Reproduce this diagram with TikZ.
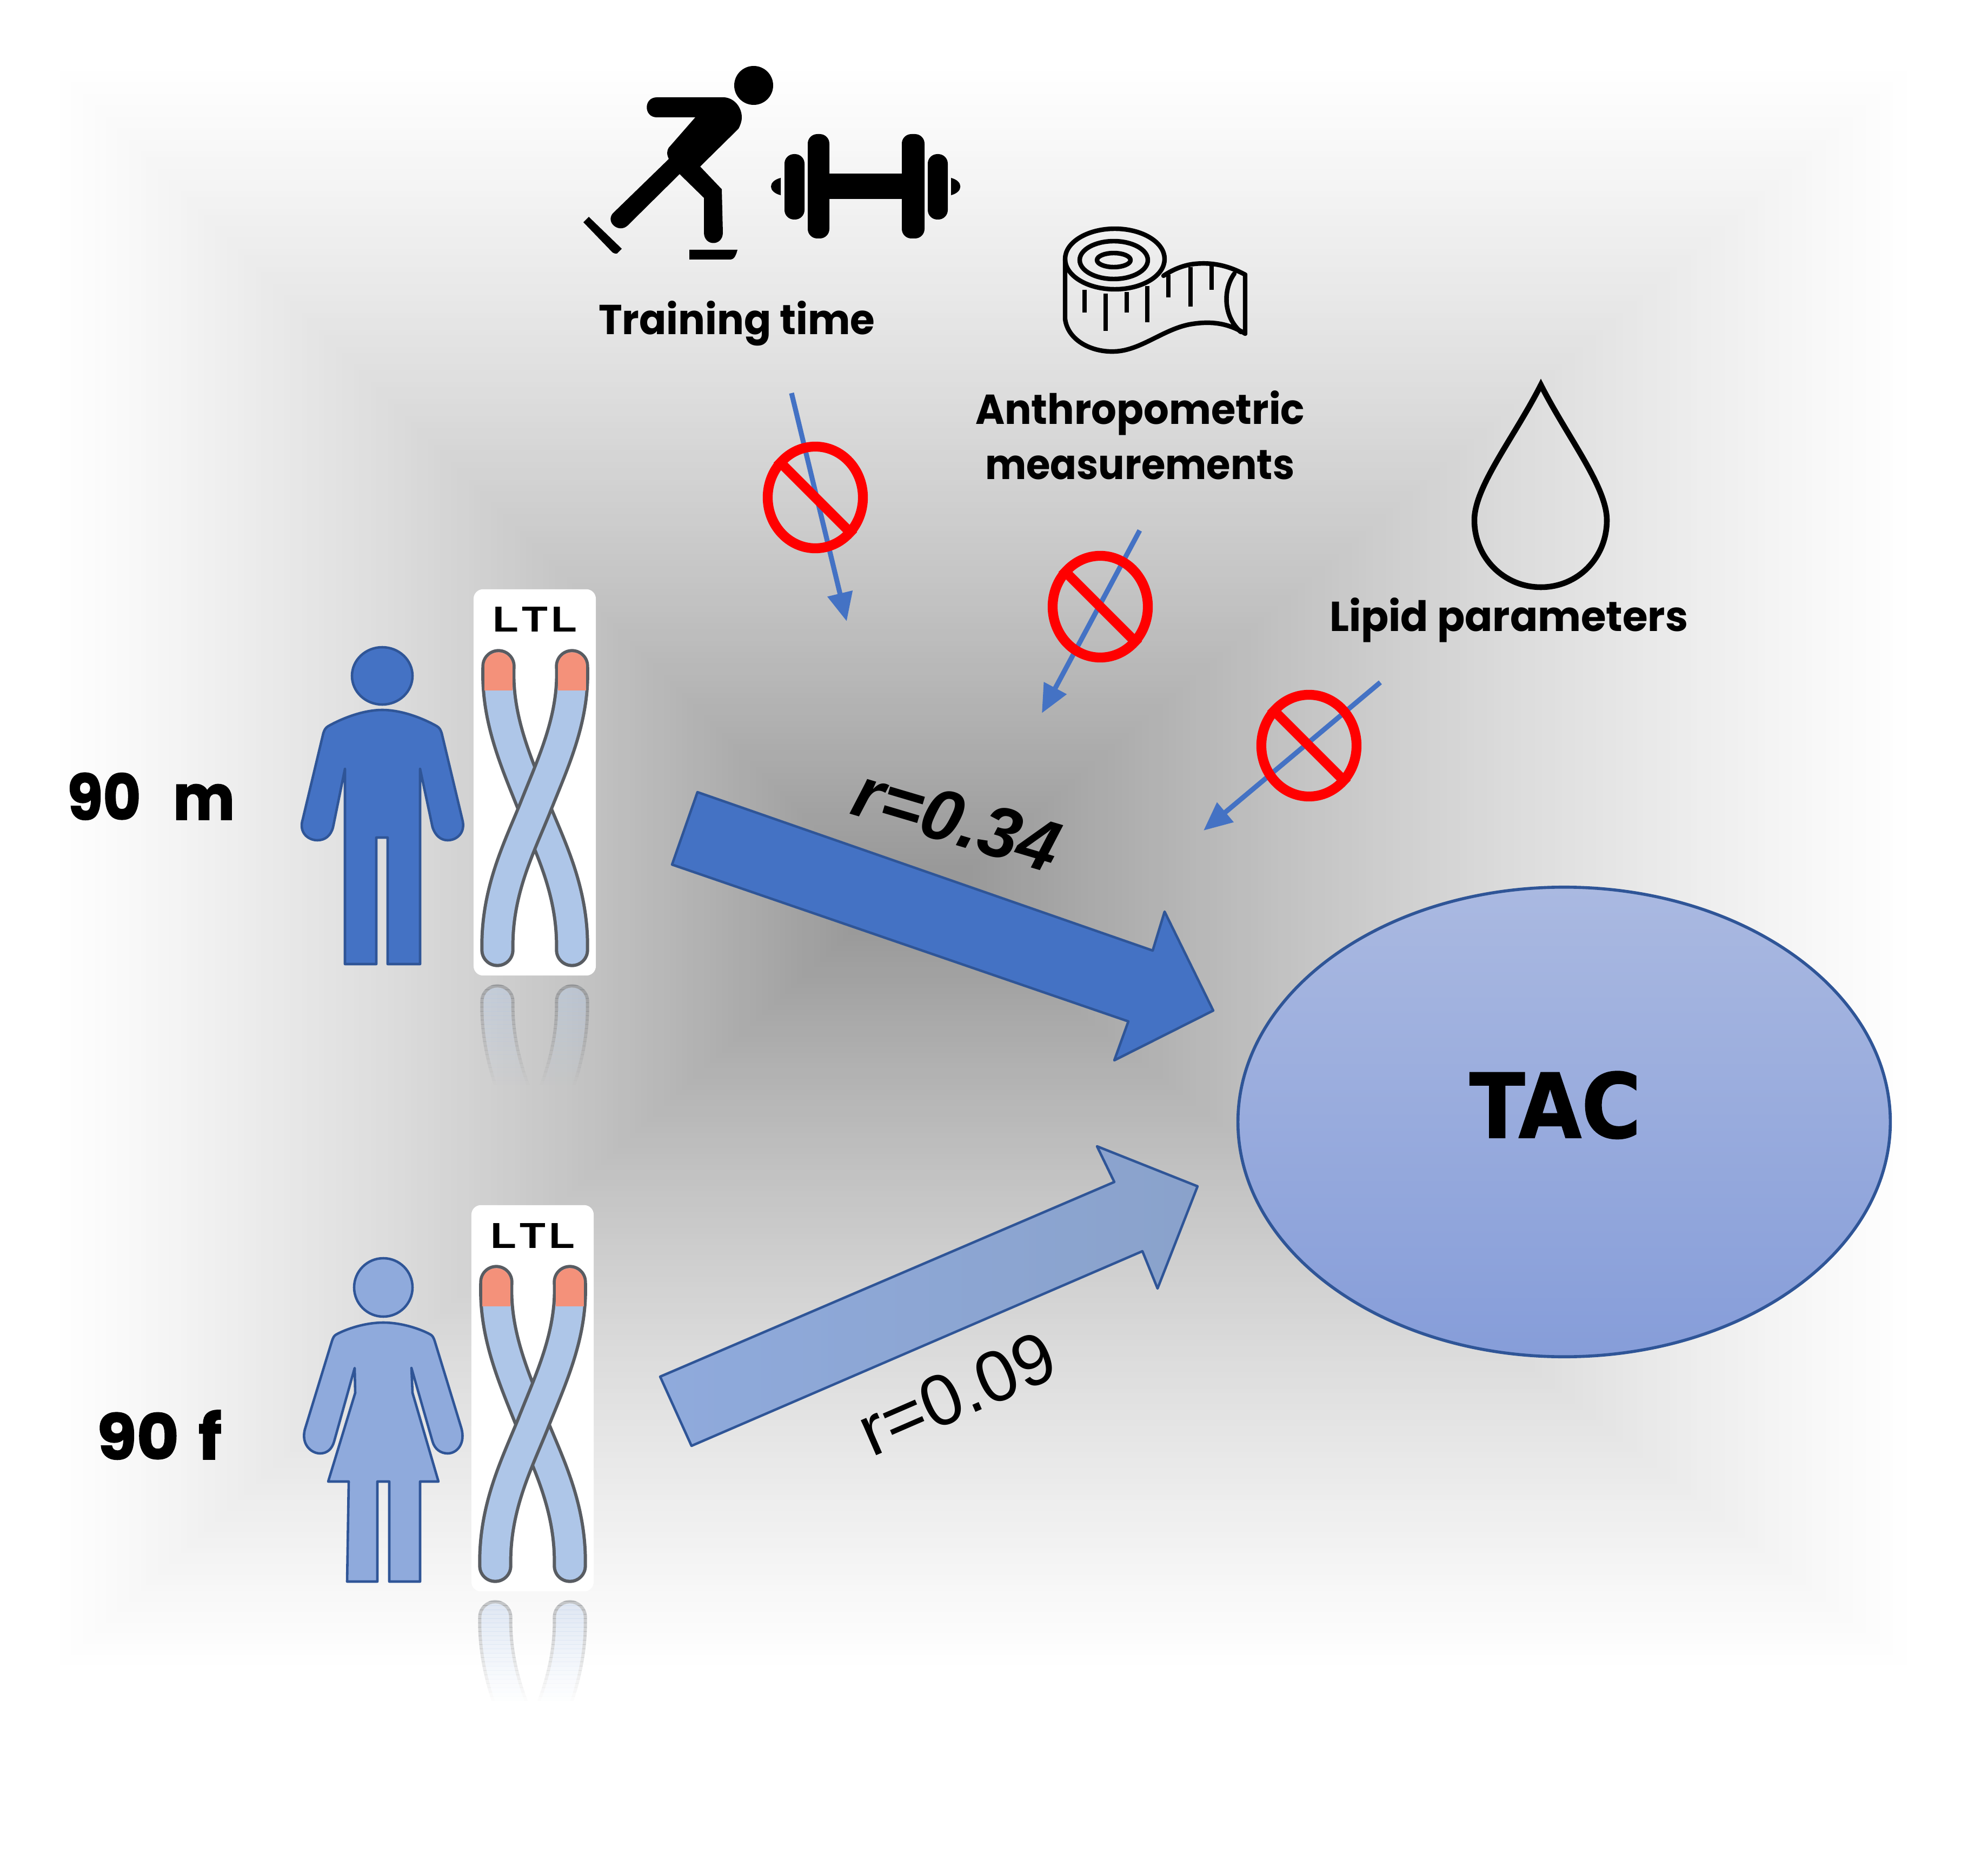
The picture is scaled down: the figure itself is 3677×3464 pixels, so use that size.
\documentclass[tikz,border=0pt]{standalone}
\usepackage{fontspec}
\usepackage{graphicx}
\usetikzlibrary{arrows.meta,shapes.geometric}
\newfontfamily\pop{Poppins}
\newfontfamily\popx[BoldFeatures={FakeBold=1.6}]{Poppins}
\newfontfamily\arialf{Liberation Sans}
\newfontfamily\dejav[BoldFeatures={FakeBold=1.2}]{DejaVu Sans}
\definecolor{manblue}{HTML}{4472C4}
\definecolor{womanblue}{HTML}{8FAADC}
\definecolor{edgeblue}{HTML}{2F5597}
\definecolor{tubeblue}{HTML}{AEC6E8}
\definecolor{tubeedge}{HTML}{585C62}
\definecolor{capred}{HTML}{F4917A}
\definecolor{tactop}{HTML}{AAB9E1}
\definecolor{tacbot}{HTML}{869DD9}
\definecolor{headblue}{HTML}{8AA2CB}
\newcommand\lbl[3]{\resizebox{#1}{\height}{\pop\bfseries\fontsize{#2}{#2}\selectfont #3}}
\newcommand\lblx[3]{\resizebox{#1}{\height}{\popx\bfseries\fontsize{#2}{#2}\selectfont #3}}
\newcommand\tubes{%
  \draw[tubeedge,line width=18pt,line cap=round] (922,1232) .. controls (918,1330) and (955,1410) .. (989,1496) .. controls (1019,1570) and (1060,1650) .. (1058,1757);
  \draw[tubeblue,line width=14.6pt,line cap=round] (922,1232) .. controls (918,1330) and (955,1410) .. (989,1496) .. controls (1019,1570) and (1060,1650) .. (1058,1757);
  \draw[tubeedge,line width=18pt,line cap=round] (1058,1232) .. controls (1062,1330) and (1023,1410) .. (989,1496) .. controls (959,1570) and (918,1650) .. (920,1757);
  \draw[tubeblue,line width=14.6pt,line cap=round] (1058,1232) .. controls (1062,1330) and (1023,1410) .. (989,1496) .. controls (959,1570) and (918,1650) .. (920,1757);
}
\newcommand\tubecaps{%
  \begin{scope}
    \clip (880,1180) rectangle (1100,1276);
    \draw[capred,line width=14.6pt,line cap=round] (922,1232) -- (922,1300);
    \draw[capred,line width=14.6pt,line cap=round] (1058,1232) -- (1058,1300);
  \end{scope}
}
\newcommand\reflection{%
  \foreach \k in {0,...,24}{
    \pgfmathsetmacro\op{0.36*(1-\k/25)}
    \begin{scope}
      \clip (860,{1806+8*\k}) rectangle (1120,{1806+8*\k+8.2});
      \begin{scope}[transparency group,opacity=\op,shift={(0,3609)},yscale=-1]
        \tubes
      \end{scope}
    \end{scope}
  }
}
\tikzset{
  figline/.style={draw=edgeblue,line width=1.3pt,line join=round},
  smallarrow/.style={draw=manblue,line width=2.6pt,-{Triangle[length=15pt,width=13pt]}},
  banring/.style={ellipse,draw=red,line width=5.2pt,minimum width=1.76cm,minimum height=1.88cm,inner sep=0pt},
  banbar/.style={draw=red,line width=5.2pt},
  lab/.style={inner sep=0pt,outer sep=0pt,text=black},
  ink/.style={draw=black,line width=2.4pt,line join=round,line cap=round},
  card/.style={rectangle,fill=white,rounded corners=5pt,inner sep=0pt,minimum width=2.26cm,minimum height=7.14cm},
}
\begin{document}
\begin{tikzpicture}[x=0.01cm,y=-0.01cm]
\useasboundingbox (0,0) rectangle (3677,3464);
% background
\fill[white] (0,0) rectangle (3677,3464);
\foreach \i in {0,...,139}{
  \pgfmathsetmacro\t{\i/139}
  \pgfmathsetmacro\pct{100*(0.28*\t+0.12*\t*\t)}
  \pgfmathsetmacro\xa{100+\t*1480}
  \pgfmathsetmacro\ya{120+\t*1480}
  \pgfmathsetmacro\xb{3540-\t*1740}
  \pgfmathsetmacro\yb{3090-\t*1370}
  \fill[black!\pct!white] (\xa,\ya) rectangle (\xb,\yb);
}
% skater
\fill[black] (1394,158) ellipse (36 and 36);
\fill[black] (1215,180) -- (1340,180) .. controls (1360,182) and (1372,200) .. (1372,217) .. controls (1372,225) and (1369,232) .. (1366,238) -- (1295,308) -- (1335,350) -- (1337,430) .. controls (1337,456) and (1302,456) .. (1302,430) -- (1302,366) -- (1257,322) -- (1161,417) .. controls (1145,432) and (1120,412) .. (1133,395) -- (1237,294) .. controls (1233,285) and (1233,280) .. (1237,273) -- (1286,217) -- (1215,217) .. controls (1190,217) and (1190,180) .. (1215,180) -- cycle;
\fill[black] (1079,411) -- (1089,401) -- (1150,460) -- (1141,469) .. controls (1138,469) and (1136,469) .. (1133,467) -- cycle;
\fill[black] (1275,462) -- (1364,462) .. controls (1361,473) and (1358,480) .. (1350,480) -- (1275,480) -- cycle;
% dumbbell
\fill[black] (1534,321) rectangle (1670,368);
\fill[black,rounded corners=5pt] (1494,248) rectangle (1534,441);
\fill[black,rounded corners=5pt] (1668,248) rectangle (1710,441);
\fill[black,rounded corners=5pt] (1451,285) rectangle (1488,406);
\fill[black,rounded corners=5pt] (1716,285) rectangle (1753,406);
\fill[black] (1444,329) .. controls (1420,335) and (1420,355) .. (1444,361) -- cycle;
\fill[black] (1759,329) .. controls (1782,335) and (1782,355) .. (1759,361) -- cycle;
% tape
\draw[ink] (2062,479) ellipse (92 and 56);
\draw[ink] (2060,481) ellipse (63 and 35);
\draw[ink] (2060,481) ellipse (31 and 13);
\draw[ink] (1970,480) -- (1970,590) .. controls (1975,630) and (2020,652) .. (2062,650) .. controls (2110,648) and (2150,610) .. (2200,600) .. controls (2245,592) and (2275,600) .. (2303,617) -- (2303,508) .. controls (2270,490) and (2240,485) .. (2210,488) .. controls (2190,490) and (2170,498) .. (2152,510);
\draw[ink] (2283,506) .. controls (2262,535) and (2262,585) .. (2295,614);
\foreach \tx/\ta/\tb in {2006/536/578,2045/543/612,2084/540/578,2122/529/596,2161/508/550,2202/494/567,2241/490/536}{
  \draw[black,line width=2.3pt] (\tx,\ta) -- (\tx,\tb);
}
% drop
\draw[black,line width=3pt,line join=miter] (2850,712) .. controls (2800,810) and (2727,900) .. (2727,962) .. controls (2727,1032) and (2782,1086) .. (2850,1086) .. controls (2918,1086) and (2972,1032) .. (2972,962) .. controls (2972,900) and (2900,810) .. (2850,712) -- cycle;
% labels
\node[lab,anchor=base west] (training) at (1107,619) {\lbl{5.11cm}{22pt}{Training time}};
\node[lab,anchor=base west] (anthro) at (1804,785) {\lbl{6.09cm}{22pt}{Anthropometric}};
\node[lab,anchor=base west] (meas) at (1822,887) {\lbl{5.72cm}{22pt}{measurements}};
\node[lab,anchor=base west] (lipid) at (2459,1167) {\lbl{6.63cm}{22pt}{Lipid parameters}};
\node[lab,anchor=base west] (ninetym) at (124,1516) {\lblx{3.10cm}{33pt}{90\hspace{0.55em}m}};
\node[lab,anchor=base west] (ninetyf) at (179,2699) {\lblx{2.31cm}{33pt}{90\hspace{0.3em}f}};
% small arrows
\coordinate (a1s) at (1464,727); \coordinate (a1e) at (1566,1149);
\coordinate (a2s) at (2108,981); \coordinate (a2e) at (1927,1319);
\coordinate (a3s) at (2553,1262); \coordinate (a3e) at (2226,1536);
\draw[smallarrow] (a1s) -- (a1e);
\draw[smallarrow] (a2s) -- (a2e);
\draw[smallarrow] (a3s) -- (a3e);
\node[banring] (ban1) at (1508,920) {};
\node[banring] (ban2) at (2035,1122) {};
\node[banring] (ban3) at (2421,1379) {};
\draw[banbar] (ban1.135) -- (ban1.-45);
\draw[banbar] (ban2.135) -- (ban2.-45);
\draw[banbar] (ban3.135) -- (ban3.-45);
% man
\path[fill=manblue,figline] (707,1250) ellipse (56 and 53);
\path[fill=manblue,figline] (707,1313) .. controls (670,1313) and (630,1330) .. (607,1343) .. controls (602,1346) and (600,1350) .. (598,1356) -- (560,1515) .. controls (552,1540) and (570,1554) .. (587,1554) .. controls (602,1554) and (612,1545) .. (616,1530) -- (638,1422) -- (638,1783) -- (696,1783) -- (696,1549) -- (717,1549) -- (717,1783) -- (777,1783) -- (777,1422) -- (800,1530) .. controls (805,1545) and (815,1554) .. (828,1554) .. controls (845,1554) and (862,1540) .. (855,1515) -- (817,1356) .. controls (815,1350) and (813,1346) .. (808,1343) .. controls (785,1330) and (745,1313) .. (707,1313) -- cycle;
% woman
\path[fill=womanblue,figline] (709,2381) ellipse (54 and 54);
\path[fill=womanblue,figline] (709,2446) .. controls (675,2446) and (640,2458) .. (622,2468) .. controls (618,2470) and (616,2474) .. (614,2480) -- (565,2640) .. controls (555,2670) and (575,2688) .. (592,2688) .. controls (605,2688) and (614,2680) .. (618,2666) -- (656,2530) -- (657,2576) -- (607,2740) -- (645,2740) -- (642,2925) -- (698,2925) -- (698,2740) -- (720,2740) -- (720,2925) -- (777,2925) -- (777,2740) -- (811,2740) -- (763,2576) -- (761,2530) -- (800,2666) .. controls (804,2680) and (815,2688) .. (828,2688) .. controls (845,2688) and (862,2670) .. (853,2640) -- (804,2480) .. controls (802,2474) and (800,2470) .. (796,2468) .. controls (778,2458) and (743,2446) .. (709,2446) -- cycle;
% cards and chromosomes
\reflection
\node[card] (card1) at (989,1447) {};
\node[lab,anchor=base west] (ltl1) at (911,1169) {\resizebox{1.56cm}{\height}{\arialf\bfseries\fontsize{19pt}{19pt}\selectfont L\kern.08em T\kern.08em L}};
\tubes
\tubecaps
\begin{scope}[shift={(-4,1139)}]
  \reflection
  \node[card] (card2) at (989,1447) {};
  \node[lab,anchor=base west] (ltl2) at (911,1169) {\resizebox{1.56cm}{\height}{\arialf\bfseries\fontsize{19pt}{19pt}\selectfont L\kern.08em T\kern.08em L}};
  \tubes
  \tubecaps
\end{scope}
% big arrows
\path[fill=manblue,figline] (1290,1465) -- (2132,1758) -- (2154,1686) -- (2244,1869) -- (2061,1961) -- (2087,1889) -- (1243,1599) -- cycle;
\path[left color=womanblue,right color=headblue,figline] (1221,2546) -- (2061,2186) -- (2029,2120) -- (2215,2194) -- (2141,2383) -- (2113,2314) -- (1279,2674) -- cycle;
\node[lab,rotate=-16.5] (r34) at (1770,1516) {\arialf\bfseries\itshape\fontsize{38pt}{38pt}\selectfont r=0.34};
\node[lab,rotate=23.5] (r09) at (1770,2577) {\arialf\fontsize{38pt}{38pt}\selectfont r=0.09};
% TAC
\node[ellipse,draw=edgeblue,line width=1.6pt,top color=tactop,bottom color=tacbot,minimum width=12.06cm,minimum height=8.68cm,inner sep=0pt] (tac) at (2893,2075) {};
\node[lab,anchor=base west] (tactext) at (2718,2104) {\resizebox{3.17cm}{\height}{\dejav\bfseries\fontsize{47pt}{47pt}\selectfont TAC}};
\end{tikzpicture}
\end{document}
